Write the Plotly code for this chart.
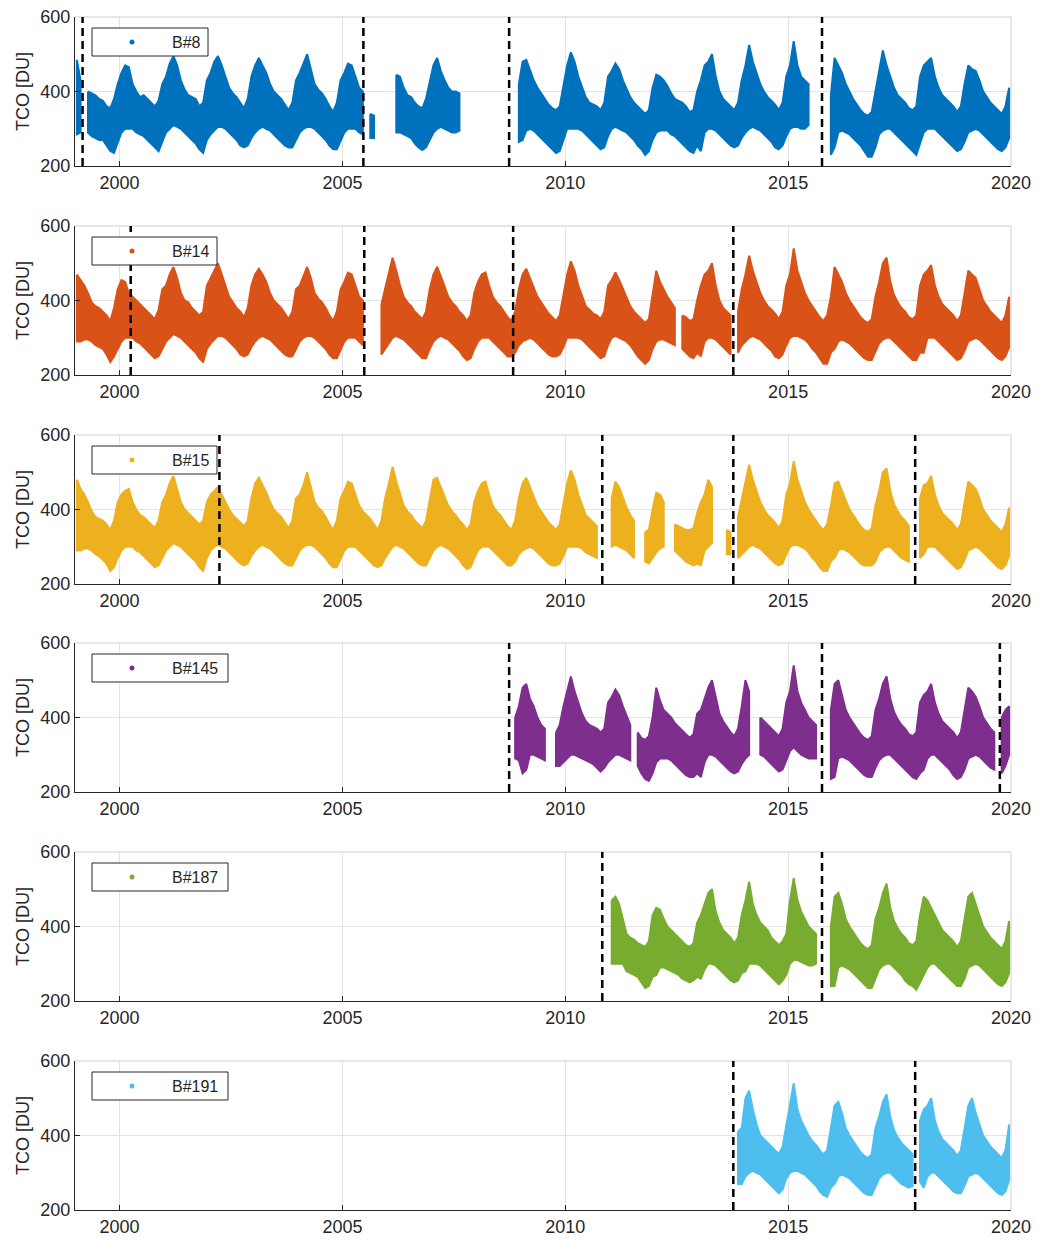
import plotly.graph_objects as go

N = None

# ---------------- data (monthly upper / lower envelope of daily TCO, DU) ----------------
b8_start = 1999
b8_hi = [
    485, 430, N, 400, 395, 390, 380, 375, 360, 355, 380, 420,   # 1999
    450, 470, 465, 420, 400, 385, 390, 380, 370, 360, 375, 420,   # 2000
    440, 475, 495, 470, 430, 405, 390, 385, 380, 360, 370, 430,   # 2001
    450, 480, 495, 470, 440, 410, 395, 385, 370, 355, 380, 440,   # 2002
    470, 490, 470, 450, 420, 400, 390, 380, 365, 350, 370, 430,   # 2003
    450, 475, 500, 460, 420, 405, 395, 380, 360, 345, 370, 430,   # 2004
    450, 475, 470, 440, 410, 400, N, 340, 335, N, N, N,           # 2005
    N, N, 445, 440, 410, 390, 385, 370, 360, 355, 380, 430,       # 2006
    470, 490, 455, 430, 410, 400, 400, 395, N, N, N, N,           # 2007
    N, N, N, N, N, N, N, N, N, N, N, 420,                         # 2008
    480, 485, 455, 430, 410, 395, 380, 365, 355, 350, 360, 420,   # 2009
    470, 505, 480, 440, 410, 385, 370, 365, 360, 350, 370, 440,   # 2010
    455, 475, 460, 430, 405, 385, 370, 360, 350, 340, 350, 410,   # 2011
    445, 440, 430, 415, 395, 380, 375, 370, 360, 345, 350, 400,   # 2012
    430, 470, 480, 500, 440, 400, 380, 370, 360, 350, 370, 430,   # 2013
    470, 525, 480, 450, 420, 400, 385, 375, 365, 350, 370, 440,   # 2014
    470, 535, 470, 440, 430, 420, N, N, N, N, N, 390,             # 2015
    490, 470, 450, 420, 400, 380, 365, 350, 340, 335, 345, 400,   # 2016
    450, 510, 470, 440, 410, 390, 380, 370, 355, 350, 360, 440,   # 2017
    470, 480, 490, 440, 410, 390, 380, 370, 360, 345, 360, 420,   # 2018
    470, 460, 455, 430, 400, 385, 370, 360, 350, 340, 360, 410,   # 2019
]
b8_lo = [
    285, 290, N, 290, 280, 275, 270, 270, 255, 240, 235, 265,
    290, 300, 300, 300, 290, 285, 280, 270, 260, 250, 240, 265,
    290, 300, 310, 305, 300, 290, 280, 270, 260, 245, 235, 270,
    285, 295, 305, 305, 300, 290, 280, 270, 255, 250, 255, 275,
    290, 300, 305, 300, 295, 285, 275, 265, 255, 250, 250, 270,
    290, 300, 305, 305, 300, 290, 280, 270, 255, 245, 245, 265,
    290, 300, 300, 300, 290, 285, N, 275, 275, N, N, N,
    N, N, 290, 290, 285, 280, 275, 260, 250, 243, 250, 270,
    290, 300, 305, 300, 295, 290, 290, 295, N, N, N, N,
    N, N, N, N, N, N, N, N, N, N, N, 265,
    270, 295, 300, 295, 285, 275, 265, 255, 245, 235, 240, 270,
    300, 300, 300, 300, 295, 285, 275, 265, 255, 245, 250, 280,
    300, 305, 300, 295, 290, 280, 270, 255, 245, 230, 240, 270,
    290, 295, 295, 295, 285, 280, 270, 260, 250, 240, 235, 255,
    240, 290, 300, 300, 295, 285, 275, 265, 255, 250, 255, 275,
    290, 300, 305, 300, 295, 285, 275, 265, 250, 245, 255, 280,
    300, 305, 305, 300, 300, 310, N, N, N, N, N, 230,
    250, 290, 295, 290, 285, 275, 265, 255, 240, 225, 225, 250,
    285, 295, 300, 300, 290, 280, 270, 260, 250, 240, 230, 260,
    290, 300, 300, 300, 290, 280, 270, 260, 250, 240, 245, 265,
    290, 295, 300, 295, 285, 275, 265, 255, 245, 240, 250, 275,
]
b8_breaks = [1999.17, 2005.47, 2008.74, 2015.76]

b14_start = 1999
b14_hi = [
    470, 455, 440, 420, 395, 385, 380, 370, 360, 345, 380, 430,   # 1999
    455, 450, 420, 410, 400, 390, 380, 370, 360, 350, 375, 430,   # 2000
    440, 470, 490, 460, 420, 400, 395, 380, 370, 360, 370, 440,   # 2001
    460, 480, 500, 470, 440, 410, 395, 380, 370, 355, 380, 440,   # 2002
    470, 485, 470, 450, 420, 400, 390, 380, 365, 350, 370, 430,   # 2003
    440, 465, 490, 460, 420, 405, 395, 380, 360, 345, 370, 430,   # 2004
    450, 475, 470, 440, 410, 400, N, N, N, N, 390, 430,           # 2005
    470, 515, 480, 440, 410, 395, 385, 370, 360, 350, 370, 430,   # 2006
    470, 490, 465, 440, 410, 395, 385, 370, 360, 345, 360, 420,   # 2007
    450, 470, 475, 440, 410, 395, 385, 370, 355, 345, 370, 430,   # 2008
    470, 485, 460, 430, 410, 395, 380, 365, 355, 345, 360, 420,   # 2009
    470, 505, 480, 440, 410, 385, 375, 365, 360, 350, 370, 440,   # 2010
    455, 475, 455, 430, 405, 385, 370, 360, 350, 340, 350, 420,   # 2011
    480, 450, 430, 410, 395, 380, N, 360, 355, 345, 350, 400,     # 2012
    440, 470, 480, 500, 440, 400, 380, 370, 360, N, 370, 430,     # 2013
    470, 520, 480, 450, 420, 400, 385, 375, 365, 350, 370, 440,   # 2014
    470, 540, 480, 450, 420, 400, 385, 370, 355, 345, 360, 410,   # 2015
    490, 470, 450, 420, 400, 385, 370, 355, 345, 340, 350, 410,   # 2016
    450, 500, 515, 450, 415, 395, 380, 370, 355, 350, 360, 440,   # 2017
    470, 480, 495, 440, 410, 390, 380, 370, 360, 345, 360, 420,   # 2018
    480, 470, 460, 430, 400, 385, 370, 360, 350, 340, 360, 410,   # 2019
]
b14_lo = [
    290, 290, 295, 295, 290, 280, 275, 270, 255, 235, 250, 270,
    290, 300, 300, 300, 290, 285, 275, 265, 255, 245, 250, 270,
    290, 300, 310, 305, 300, 290, 280, 270, 260, 245, 235, 270,
    285, 295, 305, 305, 300, 290, 280, 270, 255, 250, 255, 275,
    290, 300, 305, 300, 295, 285, 275, 265, 255, 250, 250, 270,
    290, 300, 305, 305, 300, 290, 280, 270, 255, 245, 245, 265,
    290, 300, 300, 300, 290, 280, N, N, N, N, 255, 270,
    285, 300, 305, 300, 295, 285, 275, 265, 255, 245, 245, 270,
    290, 300, 305, 300, 295, 285, 275, 265, 250, 240, 245, 270,
    290, 300, 300, 300, 290, 280, 270, 260, 250, 250, 260, 280,
    290, 295, 300, 295, 285, 275, 265, 255, 250, 250, 255, 275,
    300, 300, 300, 300, 295, 285, 275, 265, 255, 245, 250, 280,
    300, 305, 300, 295, 290, 280, 265, 250, 240, 230, 240, 270,
    290, 295, 295, 290, 285, 280, N, 270, 260, 250, 245, 260,
    250, 290, 300, 300, 295, 285, 275, 265, 255, N, 260, 280,
    290, 300, 305, 300, 295, 285, 275, 265, 250, 245, 255, 280,
    300, 305, 305, 300, 295, 285, 270, 260, 245, 230, 230, 260,
    270, 290, 295, 290, 285, 275, 265, 255, 245, 240, 240, 260,
    285, 295, 300, 300, 290, 280, 270, 260, 250, 240, 240, 260,
    260, 300, 300, 300, 290, 280, 270, 260, 250, 240, 245, 265,
    290, 295, 300, 295, 285, 275, 265, 255, 245, 240, 250, 275,
]
b14_breaks = [2000.25, 2005.49, 2008.83, 2013.77]

b15_start = 1999
b15_hi = [
    480, 455, 440, 420, 395, 380, 375, 370, 360, 345, 370, 420,   # 1999
    440, 450, 455, 420, 400, 385, 380, 370, 360, 350, 370, 420,   # 2000
    440, 470, 490, 455, 420, 400, 390, 380, 370, 360, 370, 420,   # 2001
    440, 450, 460, 440, 420, 400, 385, 375, 365, 355, 370, 430,   # 2002
    470, 485, 465, 445, 420, 400, 390, 380, 365, 350, 370, 430,   # 2003
    440, 465, 500, 460, 420, 405, 395, 380, 360, 345, 370, 430,   # 2004
    450, 475, 470, 440, 410, 395, 385, 375, 360, 345, 370, 430,   # 2005
    470, 515, 475, 440, 410, 395, 385, 370, 360, 350, 370, 430,   # 2006
    480, 485, 460, 440, 410, 395, 385, 370, 360, 345, 360, 420,   # 2007
    450, 470, 475, 440, 410, 395, 385, 370, 355, 345, 370, 430,   # 2008
    470, 485, 460, 430, 410, 395, 380, 365, 355, 345, 360, 420,   # 2009
    470, 505, 480, 440, 410, 385, 375, 365, 355, N, N, N,         # 2010
    430, 475, 460, 430, 405, 385, 370, N, N, 340, 345, 400,       # 2011
    445, 440, 420, N, N, 360, 355, 350, 345, 345, 350, 390,       # 2012
    420, 440, 480, 460, N, N, N, 345, 340, N, 380, 430,           # 2013
    470, 520, 480, 450, 420, 400, 385, 375, 365, 350, 370, 440,   # 2014
    470, 530, 480, 450, 420, 400, 385, 370, 355, 345, 360, 410,   # 2015
    470, 475, 450, 420, 400, 385, 370, 355, 345, 340, 350, 410,   # 2016
    450, 500, 510, 450, 415, 395, 380, 370, 355, N, N, 430,       # 2017
    465, 470, 490, 440, 410, 390, 380, 370, 360, 345, 360, 420,   # 2018
    475, 465, 455, 430, 400, 385, 370, 360, 350, 340, 360, 405,   # 2019
]
b15_lo = [
    290, 290, 295, 295, 290, 280, 275, 265, 255, 235, 245, 270,
    290, 300, 300, 300, 290, 285, 275, 265, 255, 245, 250, 270,
    290, 300, 310, 305, 300, 290, 280, 270, 260, 245, 235, 270,
    290, 300, 305, 300, 295, 285, 275, 265, 255, 250, 255, 275,
    290, 300, 305, 300, 295, 285, 275, 265, 255, 250, 250, 270,
    290, 300, 305, 305, 300, 290, 280, 270, 255, 245, 245, 265,
    290, 300, 300, 300, 290, 280, 270, 260, 250, 245, 250, 270,
    285, 300, 305, 300, 295, 285, 275, 265, 255, 250, 250, 270,
    290, 300, 305, 300, 295, 285, 275, 265, 250, 240, 245, 270,
    290, 300, 300, 300, 290, 280, 270, 260, 250, 250, 260, 280,
    290, 295, 300, 295, 285, 275, 265, 255, 250, 250, 255, 275,
    300, 300, 300, 300, 295, 285, 280, 275, 270, N, N, N,
    300, 305, 300, 295, 290, 280, 270, N, N, 260, 255, 270,
    285, 295, 300, N, N, 290, 280, 270, 260, 255, 250, 255,
    250, 290, 300, 310, N, N, N, 280, 280, N, 270, 280,
    290, 300, 305, 300, 295, 285, 275, 265, 255, 250, 255, 280,
    300, 305, 305, 300, 295, 285, 270, 260, 245, 235, 235, 260,
    270, 290, 295, 290, 285, 275, 265, 255, 250, 250, 250, 260,
    285, 295, 300, 300, 290, 280, 270, 265, 260, N, N, 270,
    280, 300, 300, 300, 290, 280, 270, 260, 250, 240, 245, 265,
    290, 295, 300, 295, 285, 275, 265, 255, 245, 240, 250, 275,
]
b15_breaks = [2002.24, 2010.83, 2013.77, 2017.85]

b145_start = 2008
b145_hi = [
    N, N, N, N, N, N, N, N, N, N, 400, 430,                       # 2008
    480, 490, 450, 430, 400, 380, 370, N, N, 360, 380, 430,       # 2009
    470, 510, 470, 440, 410, 390, 380, 375, 370, 360, 370, 440,   # 2010
    455, 475, 460, 430, 405, 380, N, 360, 345, 340, 350, 400,     # 2011
    480, 445, 420, 410, 400, 385, 375, 365, 355, 345, 355, 410,   # 2012
    420, 450, 480, 500, 450, 410, 390, 375, 360, 350, 370, 430,   # 2013
    500, 470, N, N, 400, 390, 380, 370, 360, 350, 370, 440,       # 2014
    470, 540, 470, 440, 420, 400, 390, 380, N, N, N, 420,         # 2015
    490, 500, 460, 420, 400, 385, 370, 355, 345, 340, 350, 420,   # 2016
    450, 490, 510, 450, 415, 395, 380, 370, 355, 350, 360, 440,   # 2017
    460, 470, 490, 440, 410, 390, 380, 370, 360, 345, 360, 420,   # 2018
    480, 470, 455, 430, 400, 385, 370, 360, N, 400, 420, 430,     # 2019
]
b145_lo = [
    N, N, N, N, N, N, N, N, N, N, 290, 285,
    250, 260, 300, 300, 295, 290, 285, N, N, 270, 270, 280,
    290, 300, 300, 295, 290, 285, 280, 275, 265, 255, 265, 280,
    290, 300, 300, 295, 290, 285, N, 270, 250, 235, 230, 250,
    280, 290, 290, 290, 285, 275, 265, 255, 245, 240, 240, 250,
    240, 280, 300, 300, 295, 285, 275, 265, 255, 250, 255, 275,
    290, 300, N, N, 300, 295, 285, 275, 265, 255, 260, 285,
    310, 320, 310, 300, 295, 290, 290, 290, N, N, N, 235,
    240, 290, 295, 290, 285, 275, 265, 255, 245, 240, 240, 265,
    285, 295, 300, 300, 290, 280, 270, 260, 250, 240, 235, 250,
    260, 290, 300, 300, 290, 280, 270, 260, 245, 235, 240, 260,
    290, 295, 300, 295, 285, 275, 265, 260, N, 250, 270, 300,
]
b145_breaks = [2008.74, 2015.76, 2019.75]

b187_start = 2011
b187_hi = [
    470, 480, 460, 420, 380, 370, 365, 355, 350, 345, 360, 430,   # 2011
    450, 445, 420, 400, 390, 380, 370, 360, 350, 345, 355, 410,   # 2012
    430, 460, 490, 500, 440, 410, 390, 380, 370, 355, 370, 430,   # 2013
    470, 520, 460, 430, 410, 400, 390, 370, 360, 350, 360, 380,   # 2014
    470, 530, 470, 440, 420, 400, 390, 380, N, N, N, 400,         # 2015
    480, 490, 460, 420, 400, 385, 370, 355, 345, 340, 350, 420,   # 2016
    450, 490, 515, 450, 415, 395, 380, 370, 355, 350, 360, 430,   # 2017
    480, 470, 450, 430, 410, 390, 380, 370, 360, 345, 360, 420,   # 2018
    480, 490, 460, 430, 400, 385, 370, 360, 350, 340, 360, 415,   # 2019
]
b187_lo = [
    300, 300, 300, 300, 280, 275, 270, 265, 250, 235, 240, 265,
    270, 290, 290, 285, 280, 275, 270, 260, 255, 250, 255, 265,
    260, 285, 300, 300, 295, 285, 275, 265, 255, 250, 255, 275,
    280, 300, 300, 300, 295, 285, 275, 265, 255, 245, 255, 270,
    300, 310, 310, 305, 300, 295, 295, 300, N, N, N, 240,
    240, 290, 295, 290, 285, 275, 265, 255, 245, 235, 235, 260,
    285, 295, 300, 300, 290, 280, 270, 255, 245, 240, 230, 250,
    270, 290, 300, 300, 290, 280, 270, 260, 250, 240, 240, 260,
    290, 295, 300, 295, 285, 275, 265, 255, 245, 240, 250, 275,
]
b187_breaks = [2010.83, 2015.76]

b191_start = 2013
b191_hi = [
    N, N, N, N, N, N, N, N, N, N, 410, 420,                       # 2013
    500, 520, 470, 430, 400, 390, 380, 370, 360, 350, 370, 430,   # 2014
    480, 540, 470, 440, 420, 400, 385, 375, 360, 350, 360, 420,   # 2015
    480, 490, 460, 420, 400, 385, 370, 355, 345, 340, 350, 420,   # 2016
    450, 490, 510, 450, 415, 395, 380, 370, 360, 350, N, 440,     # 2017
    470, 480, 500, 440, 410, 390, 380, 370, 360, 345, 360, 420,   # 2018
    480, 500, 460, 430, 400, 385, 370, 360, 350, 340, 360, 430,   # 2019
]
b191_lo = [
    N, N, N, N, N, N, N, N, N, N, 270, 270,
    290, 300, 305, 300, 295, 285, 275, 265, 255, 245, 255, 285,
    300, 305, 305, 300, 295, 285, 275, 265, 250, 240, 235, 260,
    270, 290, 295, 290, 285, 275, 265, 255, 245, 240, 240, 260,
    285, 295, 300, 300, 290, 280, 270, 265, 260, 265, N, 275,
    260, 290, 300, 300, 290, 280, 270, 260, 250, 245, 245, 265,
    290, 295, 300, 295, 285, 275, 265, 255, 245, 240, 250, 280,
]
b191_breaks = [2013.77, 2017.85]

names = ["B#8", "B#14", "B#15", "B#145", "B#187", "B#191"]
starts = [b8_start, b14_start, b15_start, b145_start, b187_start, b191_start]
his = [b8_hi, b14_hi, b15_hi, b145_hi, b187_hi, b191_hi]
los = [b8_lo, b14_lo, b15_lo, b145_lo, b187_lo, b191_lo]
breaks = [b8_breaks, b14_breaks, b15_breaks, b145_breaks, b187_breaks, b191_breaks]
colors = ["#0072BD", "#D95319", "#EDB120", "#7E2F8E", "#77AC30", "#4DBEEE"]

x_ticks = [2000, 2005, 2010, 2015, 2020]
y_ticks = [200, 400, 600]

# ---------------- layout geometry (pixels) ----------------
W, H = 1037, 1241
ML, MR, MT, MB = 75, 26, 17, 31
PW = W - ML - MR
panel_tops = [17, 226, 435, 643, 852, 1061]
panel_h = 149
plot_h = H - MT - MB
legend_right = [208, 217, 217, 228, 228, 228]   # right edge of each legend box (px)

FONT = "Arial, Liberation Sans, Helvetica, sans-serif"
AX = "#262626"
GRID = "#e3e3e3"


def px_x(px):
    return (px - ML) / PW


def px_y(py):
    return (H - MB - py) / plot_h


def band_polygon(start, hi, lo):
    t = [start + (i + 0.5) / 12.0 for i in range(len(hi))]
    segs, cur = [], []
    for ti, h, l in zip(t, hi, lo):
        if h is None or l is None:
            if cur:
                segs.append(cur)
                cur = []
        else:
            cur.append((ti, h, l))
    if cur:
        segs.append(cur)
    xs, ys = [], []
    for seg in segs:
        if len(seg) == 1:
            ti, h, l = seg[0]
            seg = [(ti - 1 / 30, h, l), (ti + 1 / 30, h, l)]
        xs += [p[0] for p in seg] + [p[0] for p in reversed(seg)] + [seg[0][0], None]
        ys += [p[1] for p in seg] + [p[2] for p in reversed(seg)] + [seg[0][1], None]
    return xs, ys


fig = go.Figure()
shapes = []
layout_axes = {}

for i in range(6):
    k = "" if i == 0 else str(i + 1)
    xa, ya = "x" + k, "y" + k
    c = colors[i]
    xs, ys = band_polygon(starts[i], his[i], los[i])
    fig.add_trace(go.Scatter(
        x=xs, y=ys, mode="lines", fill="toself", fillcolor=c,
        line=dict(color=c, width=2), xaxis=xa, yaxis=ya,
        showlegend=False, hoverinfo="skip", connectgaps=False))
    # legend entry
    fig.add_trace(go.Scatter(
        x=[None], y=[None], mode="markers", name=names[i],
        marker=dict(color=c, size=5), xaxis=xa, yaxis=ya,
        legend="legend" + k, showlegend=True))

    top = panel_tops[i]
    bot = top + panel_h
    layout_axes["xaxis" + k] = dict(
        domain=[0, 1], anchor=ya, range=[1999.0, 2020.0],
        tickvals=x_ticks, ticktext=[str(v) for v in x_ticks],
        ticks="inside", ticklen=5, tickcolor=AX, tickwidth=1,
        showgrid=True, gridcolor=GRID, gridwidth=1, zeroline=False,
        showline=True, linecolor=AX, linewidth=1,
        tickfont=dict(family=FONT, size=18, color=AX))
    layout_axes["yaxis" + k] = dict(
        domain=[px_y(bot), px_y(top)], anchor=xa, range=[200, 600],
        tickvals=y_ticks, ticks="inside", ticklen=5, tickcolor=AX,
        showgrid=True, gridcolor=GRID, gridwidth=1, zeroline=False,
        showline=True, linecolor=AX, linewidth=1,
        tickfont=dict(family=FONT, size=18, color=AX),
        title=dict(text="TCO [DU]", font=dict(family=FONT, size=18, color=AX), standoff=6))
    # light box on top / right
    shapes.append(dict(type="line", xref=xa + " domain", yref=ya + " domain",
                       x0=0, x1=1, y0=1, y1=1, line=dict(color="#cfcfcf", width=1)))
    shapes.append(dict(type="line", xref=xa + " domain", yref=ya + " domain",
                       x0=1, x1=1, y0=0, y1=1, line=dict(color="#cfcfcf", width=1)))
    for b in breaks[i]:
        shapes.append(dict(type="line", xref=xa, yref=ya + " domain",
                           x0=b, x1=b, y0=0, y1=1, layer="above",
                           line=dict(color="black", width=2.5, dash="8px,5px")))
    # legend box
    shapes.append(dict(type="rect", xref="paper", yref="paper", layer="above",
                       x0=px_x(92), x1=px_x(legend_right[i]),
                       y0=px_y(top + 39), y1=px_y(top + 11),
                       fillcolor="white", line=dict(color=AX, width=1)))
    layout_axes["legend" + k] = dict(
        xref="paper", yref="paper",
        x=px_x(92), y=px_y(top + 25), xanchor="left", yanchor="middle",
        bgcolor="rgba(0,0,0,0)", borderwidth=0,
        font=dict(family=FONT, size=16, color=AX),
        itemwidth=70, itemclick=False, itemdoubleclick=False)

fig.update_layout(
    width=W, height=H,
    margin=dict(l=ML, r=MR, t=MT, b=MB, autoexpand=False),
    paper_bgcolor="white", plot_bgcolor="white",
    shapes=shapes, **layout_axes)

fig.write_html("out.html", config={"displayModeBar": False},
               post_script="document.body.style.margin='0';")
